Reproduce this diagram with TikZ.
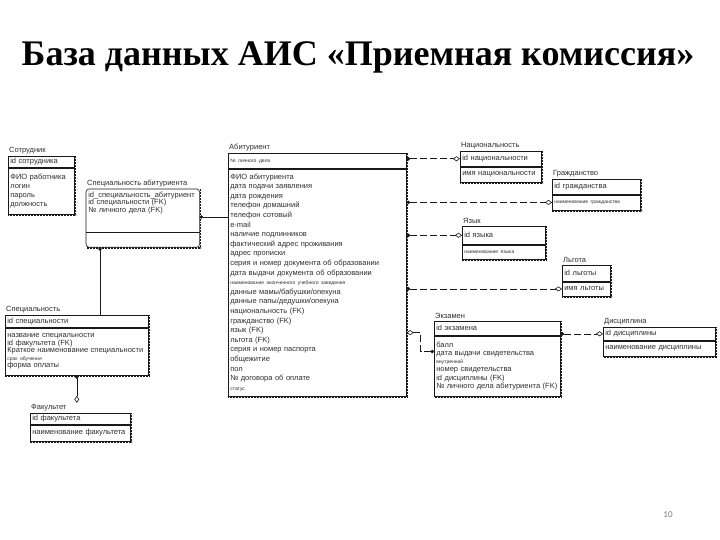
\documentclass[tikz,border=0pt]{standalone}
\usepackage{fontspec}
\setmainfont{Liberation Sans}
\newfontfamily\titlefont{Liberation Serif}
\newfontfamily\numfont{Carlito}
\usetikzlibrary{arrows.meta,positioning}
\definecolor{erline}{RGB}{25,25,25}
\definecolor{ertext}{RGB}{45,45,45}
\definecolor{pgnum}{RGB}{120,120,120}
\newcommand\ersmall[1]{{\fontsize{5}{6}\selectfont #1}}

\begin{document}
\begin{tikzpicture}[x=1pt,y=-1pt,font=\fontsize{7.5}{8}\selectfont]
\tikzset{
  ekey/.style={draw=erline,line width=0.6pt,anchor=north west,inner xsep=2pt,inner ysep=1pt,align=left,text=ertext},
  eattr/.style={draw=erline,line width=0.6pt,inner xsep=2pt,inner ysep=1pt,align=left,text=ertext},
  ename/.style={anchor=south west,inner sep=1pt,text=ertext},
  shad/.style={erline,line width=1.5pt,dash pattern=on 0.75pt off 0.75pt},
  idrel/.style={erline,line width=0.6pt},
  nidrel/.style={erline,line width=0.6pt,dash pattern=on 7pt off 3pt},
  fk/.style={{Circle[length=3.5pt]}-{Diamond[open,length=7pt,width=5pt]}},
  kf/.style={{Diamond[open,length=7pt,width=5pt]}-{Circle[length=3.5pt]}},
  tochild/.style={-{Circle[length=3.5pt]}}
}
\useasboundingbox (0,0) rectangle (720,540);

% title and page number
\node[font=\titlefont\bfseries\fontsize{36}{40}\selectfont] (title) at (358,57) {База данных АИС «Приемная комиссия»};
\node[font=\numfont\fontsize{9}{10}\selectfont,text=pgnum] (pg) at (668,515) {10};

% Сотрудник
\node[ename] (sotn) at (8,155) {Сотрудник};
\node[ekey,text width=62pt,minimum height=11pt] (sotk) at (8,156) {id сотрудника};
\node[eattr,text width=62pt,minimum height=46pt,font=\fontsize{7.5}{9}\selectfont,below=0pt of sotk] (sota) {ФИО работника\\логин\\пароль\\должность};

% Специальность абитуриента
\node[ename] (span) at (86,188) {Специальность абитуриента};
\node[ekey,draw=none,text width=109pt,minimum height=43pt,text depth=33pt,font=\fontsize{7.5}{7.6}\selectfont] (spak) at (86,189) {id\_специальность\_абитуриент\\id специальности (FK)\\№ личного дела (FK)};
\node[eattr,draw=none,text width=109pt,minimum height=14pt,below=0pt of spak] (spaa) {};
\draw[erline,line width=0.6pt,rounded corners=3pt] (spak.north west) rectangle (spaa.south east);
\draw[erline,line width=0.6pt] (spak.south west) -- (spak.south east);

% Абитуриент
\node[ename] (abn) at (228,152) {Абитуриент};
\node[ekey,text width=174pt,minimum height=15pt] (abk) at (228,153) {\ersmall{№ личного дела}};
\node[eattr,text width=174pt,minimum height=227pt,font=\fontsize{7.5}{9.6}\selectfont,below=0pt of abk] (aba) {ФИО абитуриента\\дата подачи заявления\\дата рождения\\телефон домашний\\телефон сотовый\\e-mail\\наличие подлинников\\фактический адрес проживания\\адрес прописки\\серия и номер документа об образовании\\дата выдачи документа об образовании\\\ersmall{наименование оконченного учебного заведения}\\данные мамы/бабушки/опекуна\\данные папы/дедушки/опекуна\\национальность (FK)\\гражданство (FK)\\язык (FK)\\льгота (FK)\\серия и номер паспорта\\общежитие\\пол\\№ договора об оплате\\\ersmall{статус}};

% Национальность
\node[ename] (natn) at (460,150) {Национальность};
\node[ekey,text width=77pt,minimum height=15pt] (natk) at (460,151) {id национальности};
\node[eattr,text width=77pt,minimum height=15pt,below=0pt of natk] (nata) {имя национальности};

% Гражданство
\node[ename] (grzn) at (552,178) {Гражданство};
\node[ekey,text width=84pt,minimum height=15pt] (grzk) at (552,179) {id гражданства};
\node[eattr,text width=84pt,minimum height=15pt,below=0pt of grzk] (grza) {\ersmall{наименование гражданства}};

% Язык
\node[ename] (yazn) at (462,225) {Язык};
\node[ekey,text width=79pt,minimum height=18pt] (yazk) at (462,226) {id языка};
\node[eattr,text width=79pt,minimum height=14pt,below=0pt of yazk] (yaza) {\ersmall{наименование языка}};

% Льгота
\node[ename] (lgn) at (562,264) {Льгота};
\node[ekey,text width=44pt,minimum height=16pt] (lgk) at (562,265) {id льготы};
\node[eattr,text width=44pt,minimum height=14pt,below=0pt of lgk] (lga) {имя льготы};

% Специальность
\node[ename] (spcn) at (5,314) {Специальность};
\node[ekey,text width=139pt,minimum height=12pt] (spck) at (5,315) {id специальности};
\node[eattr,text width=139pt,minimum height=47pt,font=\fontsize{7.5}{7.6}\selectfont,below=0pt of spck] (spca) {название специальности\\id факультета (FK)\\Краткое наименование специальности\\\ersmall{срок обучения}\\форма оплаты};

% Факультет
\node[ename] (fakn) at (30,412) {Факультет};
\node[ekey,text width=96pt,minimum height=11pt] (fakk) at (30,413) {id факультета};
\node[eattr,text width=96pt,minimum height=16pt,below=0pt of fakk] (faka) {наименование факультета};

% Экзамен
\node[ename] (exn) at (434,320) {Экзамен};
\node[ekey,text width=122pt,minimum height=14pt] (exk) at (434,321) {id экзамена};
\node[eattr,text width=122pt,minimum height=60pt,font=\fontsize{7.5}{8.2}\selectfont,below=0pt of exk] (exa) {балл\\дата выдачи свидетельства\\\ersmall{внутренний}\\номер свидетельства\\id дисциплины (FK)\\№ личного дела абитуриента (FK)};

% Дисциплина
\node[ename] (disn) at (603,326) {Дисциплина};
\node[ekey,text width=108pt,minimum height=13pt] (disk) at (603,327) {id дисциплины};
\node[eattr,text width=108pt,minimum height=15pt,below=0pt of disk] (disa) {наименование дисциплины};

% shadows
\foreach \e in {sot,spa,ab,nat,grz,yaz,lg,spc,fak,ex,dis}
  \draw[shad] ([xshift=1pt]\e k.north east) -- ([xshift=1pt,yshift=-1pt]\e a.south east) -- ([yshift=-1pt]\e a.south west);

% relationships
\coordinate (spax) at ([yshift=-28pt]spak.north east);
\coordinate (spcx) at ([xshift=95pt]spck.north west);
\coordinate (abex) at ([yshift=-164pt]aba.north east);
\coordinate (exin) at ([yshift=-16pt]exa.north west);
\draw[nidrel,fk] (abk.east |- natk.west) -- (natk.west);
\draw[nidrel,fk] (abk.east |- grza.west) -- (grza.west);
\draw[nidrel,fk] (abk.east |- yazk.west) -- (yazk.west);
\draw[nidrel,fk] (abk.east |- lga.west) -- (lga.west);
\draw[nidrel,kf] (abex) -- ++(14,0) |- (exin);
\draw[nidrel,fk] (exk.east |- disk.west) -- (disk.west);
\draw[idrel,tochild] (abk.west |- spax) -- (spax);
\draw[idrel,tochild] (spcx) -- (spcx |- spaa.south);
\draw[idrel,fk] (spca.south) -- (spca.south |- fakn.north);
\end{tikzpicture}
\end{document}
